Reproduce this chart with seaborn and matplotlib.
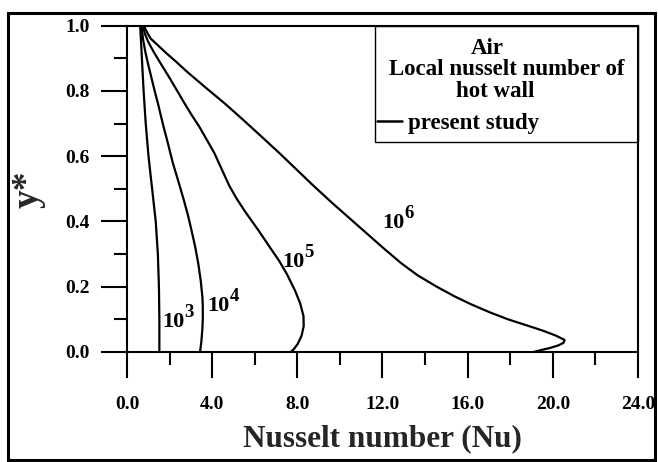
import matplotlib
matplotlib.use("Agg")
import matplotlib.pyplot as plt
from matplotlib.lines import Line2D
from matplotlib.patches import Rectangle
from matplotlib.ticker import MultipleLocator, FormatStrFormatter
import numpy as np
import pandas as pd
import seaborn as sns

# Local Nusselt number along the hot wall (y* = height) for several Rayleigh numbers
y_ra3 = [0.0, 0.1, 0.2, 0.3, 0.4, 0.5, 0.6, 0.7, 0.8, 0.9, 0.95, 1.0]
nu_ra3 = [1.52, 1.52, 1.50, 1.45, 1.35, 1.18, 1.01, 0.88, 0.78, 0.70, 0.66, 0.62]

y_ra4 = [0.0, 0.03, 0.07, 0.10, 0.14, 0.17, 0.22, 0.27, 0.32, 0.37, 0.42, 0.47, 0.53,
         0.58, 0.64, 0.70, 0.76, 0.80, 0.84, 0.88, 0.92, 0.96, 1.0]
nu_ra4 = [3.43, 3.49, 3.54, 3.56, 3.56, 3.54, 3.46, 3.35, 3.21, 3.04, 2.86, 2.65, 2.38,
          2.15, 1.92, 1.68, 1.46, 1.30, 1.15, 1.00, 0.86, 0.75, 0.68]

y_ra5 = [0.0, 0.01, 0.025, 0.05, 0.08, 0.11, 0.15, 0.19, 0.24, 0.28, 0.32, 0.375, 0.43,
         0.47, 0.51, 0.56, 0.61, 0.65, 0.69, 0.725, 0.76, 0.80, 0.84, 0.88, 0.92, 0.95,
         0.975, 1.0]
nu_ra5 = [7.70, 7.85, 8.02, 8.20, 8.30, 8.29, 8.13, 7.88, 7.50, 7.14, 6.72, 6.15, 5.55,
          5.15, 4.80, 4.45, 4.10, 3.75, 3.40, 3.05, 2.72, 2.36, 2.00, 1.62, 1.25, 1.00,
          0.84, 0.75]

y_ra6 = [0.0, 0.006, 0.012, 0.02, 0.028, 0.037, 0.05, 0.065, 0.08, 0.10, 0.12, 0.145,
         0.17, 0.20, 0.235, 0.272, 0.318, 0.364, 0.41, 0.456, 0.51, 0.56, 0.61, 0.66,
         0.71, 0.76, 0.81, 0.86, 0.89, 0.915, 0.94, 0.96, 0.975, 0.99, 1.0]
nu_ra6 = [19.10, 19.45, 19.85, 20.25, 20.50, 20.55, 20.15, 19.55, 18.85, 17.90, 17.10,
          16.20, 15.40, 14.55, 13.65, 12.88, 12.05, 11.25, 10.45, 9.65, 8.75, 7.95, 7.15,
          6.32, 5.48, 4.62, 3.70, 2.80, 2.30, 1.86, 1.45, 1.12, 0.98, 0.86, 0.82]

ra_names = ["Ra=1e3", "Ra=1e4", "Ra=1e5", "Ra=1e6"]
ra_base = "10"
ra_exp = ["3", "4", "5", "6"]
label_x = [1.64, 3.76, 7.28, 11.98]
label_y = [0.078, 0.127, 0.260, 0.381]

x_ticks = [0, 4, 8, 12, 16, 20, 24]
y_ticks = [0.0, 0.2, 0.4, 0.6, 0.8, 1.0]

frames = []
for name, ys, nus in zip(ra_names, [y_ra3, y_ra4, y_ra5, y_ra6],
                         [nu_ra3, nu_ra4, nu_ra5, nu_ra6]):
    frames.append(pd.DataFrame({"Nu": nus, "y": ys, "Ra": name}))
df = pd.concat(frames, ignore_index=True)

sns.set_style("ticks")
plt.rcParams["font.family"] = ["Liberation Serif", "DejaVu Serif"]
plt.rcParams["font.weight"] = "bold"
plt.rcParams["text.color"] = "black"
plt.rcParams["axes.edgecolor"] = "black"
plt.rcParams["xtick.color"] = "black"
plt.rcParams["ytick.color"] = "black"

fig = plt.figure(figsize=(6.58, 4.62), dpi=100)
ax = fig.add_axes([0.1930, 0.2381, 0.7766, 0.7063])

sns.lineplot(data=df, x="Nu", y="y", units="Ra", estimator=None, sort=False,
             color="black", linewidth=1.6, legend=False, ax=ax)

# Rayleigh-number tags: "10" with a raised exponent
for ex, lx, ly in zip(ra_exp, label_x, label_y):
    t = ax.text(lx, ly, ra_base, fontsize=16, ha="left", va="baseline")
    ax.annotate(ex, xy=(1, 0), xycoords=t, xytext=(0.3, 10.7),
                textcoords="offset points", fontsize=13.5, ha="left", va="baseline")

ax.set_xlim(0, 24)
ax.set_ylim(0, 1)
ax.set_xticks(x_ticks)
ax.set_yticks(y_ticks)
ax.xaxis.set_minor_locator(MultipleLocator(2))
ax.yaxis.set_minor_locator(MultipleLocator(0.1))
ax.xaxis.set_major_formatter(FormatStrFormatter("%.1f"))
ax.yaxis.set_major_formatter(FormatStrFormatter("%.1f"))

for s in ax.spines.values():
    s.set_visible(True)
    s.set_linewidth(1.5)
    s.set_color("black")

ax.tick_params(which="both", direction="out", width=1.5, top=False, right=False,
               bottom=True, left=True, colors="black")
ax.tick_params(which="major", length=19, labelsize=14)
ax.tick_params(axis="x", which="major", pad=13)
ax.tick_params(axis="y", which="major", pad=8)
ax.tick_params(which="minor", length=9.5)

ax.set_xlabel("Nusselt number (Nu)", fontsize=22.5, fontweight="bold", labelpad=8)
ax.set_ylabel("y*", fontsize=27, fontweight="bold")
ax.yaxis.set_label_coords(-0.16, 0.5)

# Legend box: caption lines plus one line sample
ax.add_patch(Rectangle((0.4853, 0.6436), 0.5147, 0.3564, transform=ax.transAxes,
                       fill=False, edgecolor="black", linewidth=1.0, zorder=3,
                       clip_on=False))
caption = [("Air", 0.7045, 0.914), ("Local nusselt number of", 0.7427, 0.849),
           ("hot wall", 0.7202, 0.782)]
for txt, cx, cy in caption:
    ax.text(cx, cy, txt, transform=ax.transAxes, fontsize=16.5, ha="center",
            va="baseline")

handle = Line2D([], [], color="black", linewidth=1.8)
leg = ax.legend([handle], ["present study"], loc="lower left",
                bbox_to_anchor=(0.489, 0.668), borderaxespad=0, borderpad=0,
                prop={"size": 16.5, "weight": "bold"}, frameon=False,
                handlelength=1.1, handletextpad=0.25)

fig.patches.append(Rectangle((7.5 / 658, 2.5 / 462), 647.5 / 658, 447 / 462,
                             transform=fig.transFigure, fill=False,
                             edgecolor="black", linewidth=2.2))

fig.savefig("out.png", dpi=100)
